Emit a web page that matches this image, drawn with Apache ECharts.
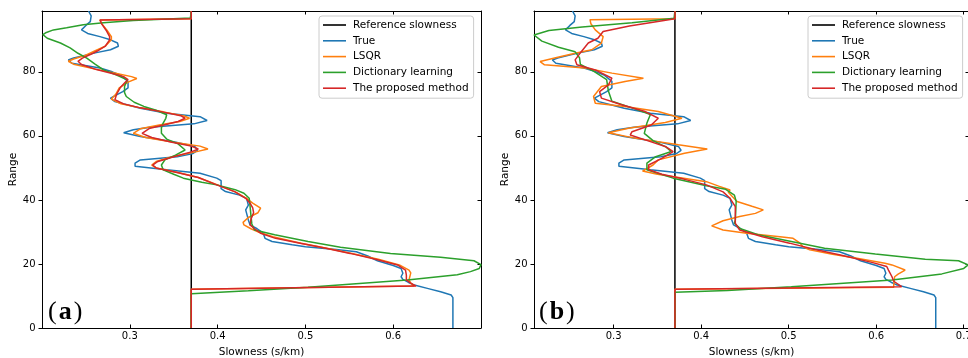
<!DOCTYPE html>
<html>
<head>
<meta charset="utf-8">
<script src="https://cdn.jsdelivr.net/npm/echarts@6/dist/echarts.min.js"></script>
<style>
  html, body { margin: 0; padding: 0; background: #ffffff; }
  #chart { width: 968px; height: 358px; }
</style>
</head>
<body>
<div id="chart"></div>
<script>
// Reference slowness (s/km), constant over the whole range
const REF_SLOWNESS = 0.37;
const RANGE_MIN = 0;
const RANGE_MAX = 99;

// Tick labels
const rangeTicks = [0, 20, 40, 60, 80];
const slowTicksA = [0.3, 0.4, 0.5, 0.6];
const slowTicksB = [0.3, 0.4, 0.5, 0.6, 0.7];

// True slowness profile (shared by both panels)
const rangeTrue = [99, 97.5, 95.7, 94.5, 93.1, 92, 91, 90, 89, 88, 86.9, 86, 85.3, 84.3, 83.7, 82.7, 81.2, 80, 79, 77, 75, 73.8, 72.8, 71.8, 70.7, 69.5, 68.6, 67.1, 66, 64.8, 63.75, 63.2, 62.7, 61.9, 61, 59.8, 58.2, 56.7, 55.5, 54.5, 53.5, 52.5, 51.5, 50.5, 49.4, 48.3, 46.8, 46, 43.5, 42.6, 41.5, 40.5, 38.4, 36.9, 33.75, 32.2, 31, 29.6, 28, 27, 26, 25.4, 24.5, 23.8, 22.5, 21, 19.5, 18.6, 17.1, 16, 15.2, 14.3, 13.4, 12.3, 11.3, 10.3, 9.5, 0];
const slowTrue = [0.253, 0.256, 0.255, 0.250, 0.245, 0.252, 0.266, 0.278, 0.286, 0.287, 0.278, 0.262, 0.251, 0.236, 0.230, 0.234, 0.266, 0.280, 0.289, 0.298, 0.298, 0.292, 0.285, 0.278, 0.283, 0.300, 0.312, 0.342, 0.380, 0.388, 0.373, 0.345, 0.323, 0.304, 0.293, 0.312, 0.350, 0.374, 0.377, 0.372, 0.354, 0.312, 0.306, 0.306, 0.342, 0.380, 0.399, 0.404, 0.404, 0.409, 0.425, 0.433, 0.435, 0.432, 0.435, 0.437, 0.445, 0.452, 0.454, 0.462, 0.485, 0.500, 0.535, 0.558, 0.571, 0.582, 0.600, 0.609, 0.611, 0.609, 0.611, 0.617, 0.624, 0.640, 0.654, 0.666, 0.668, 0.668];

// Panel (a): LSQR
const rangeLsqrA = [99, 96.6, 96.2, 95, 93, 91, 90, 88, 86.5, 85, 84, 83.3, 82.4, 81, 79.5, 78.5, 77.9, 76.8, 75, 73, 71.5, 70, 68.75, 67.5, 66.2, 65.5, 64.5, 63.5, 62.2, 60.8, 59.5, 58, 56.8, 55.9, 55, 53.5, 52, 50.9, 50, 48.5, 47, 44.7, 42.5, 40.5, 39, 37.4, 36, 34.5, 33, 32.2, 31, 30, 28.5, 26.5, 25, 23.3, 21.5, 19.7, 18.1, 17.2, 15, 14, 13.1, 12.1, 0];
const slowLsqrA = [0.37, 0.37, 0.266, 0.268, 0.274, 0.279, 0.279, 0.272, 0.260, 0.248, 0.236, 0.230, 0.236, 0.258, 0.285, 0.302, 0.308, 0.298, 0.288, 0.284, 0.279, 0.290, 0.312, 0.338, 0.362, 0.368, 0.357, 0.335, 0.312, 0.304, 0.318, 0.350, 0.380, 0.389, 0.375, 0.348, 0.330, 0.325, 0.330, 0.356, 0.378, 0.400, 0.420, 0.433, 0.440, 0.449, 0.446, 0.435, 0.429, 0.430, 0.438, 0.446, 0.463, 0.495, 0.523, 0.553, 0.583, 0.607, 0.618, 0.620, 0.618, 0.620, 0.624, 0.37, 0.37];

// Panel (a): dictionary learning
const rangeDictA = [99, 96.8, 96, 95.3, 94.7, 93.8, 93.1, 92.3, 91.6, 90.5, 89, 87.5, 85.8, 84.3, 82.5, 80.6, 79, 77.5, 75.4, 73.5, 72.3, 70.5, 69.2, 68, 66.6, 65.5, 64, 62.5, 60.8, 59, 57.5, 55.6, 54, 52.5, 50.9, 49.4, 48, 46.8, 45.5, 44.7, 43.2, 42.1, 40.5, 38, 35, 32.5, 30.6, 29.1, 27, 25.2, 23.3, 22.1, 21, 19.8, 18.6, 17.6, 16.6, 15, 12.7, 11.6, 10.7, 0];
const slowDictA = [0.37, 0.369, 0.304, 0.270, 0.247, 0.228, 0.213, 0.205, 0.201, 0.206, 0.221, 0.232, 0.241, 0.251, 0.260, 0.270, 0.285, 0.297, 0.294, 0.294, 0.296, 0.305, 0.316, 0.330, 0.342, 0.341, 0.338, 0.336, 0.336, 0.342, 0.355, 0.363, 0.352, 0.340, 0.336, 0.338, 0.350, 0.361, 0.382, 0.399, 0.420, 0.430, 0.436, 0.437, 0.438, 0.439, 0.442, 0.465, 0.503, 0.540, 0.597, 0.654, 0.692, 0.700, 0.698, 0.688, 0.673, 0.616, 0.503, 0.435, 0.37, 0.37];

// Panel (a): proposed method
const rangePropA = [99, 96.6, 96.2, 95, 93, 91, 90, 88, 86.5, 85.4, 84.3, 83.3, 82.3, 80.7, 79.5, 78.5, 77.6, 76.5, 75, 73, 71.3, 70, 68.75, 67.5, 66.3, 65.5, 64.5, 63.5, 62.3, 60.8, 59.5, 58, 56.8, 55.9, 55, 53.5, 52, 50.9, 50, 48.5, 47, 44.7, 42.5, 40.5, 39, 37.5, 36, 34, 32.2, 31, 29.6, 28, 26.5, 25, 23.3, 21.5, 19.7, 18.1, 16.5, 15, 14, 13.1, 12.1, 0];
const slowPropA = [0.37, 0.37, 0.266, 0.268, 0.273, 0.277, 0.277, 0.272, 0.263, 0.255, 0.246, 0.241, 0.245, 0.262, 0.280, 0.293, 0.298, 0.294, 0.289, 0.285, 0.283, 0.293, 0.312, 0.337, 0.358, 0.363, 0.355, 0.340, 0.322, 0.314, 0.325, 0.348, 0.370, 0.378, 0.370, 0.350, 0.332, 0.326, 0.330, 0.355, 0.378, 0.399, 0.420, 0.432, 0.437, 0.440, 0.441, 0.438, 0.437, 0.442, 0.449, 0.466, 0.494, 0.522, 0.551, 0.580, 0.605, 0.614, 0.615, 0.615, 0.620, 0.626, 0.37, 0.37];

// Panel (b): LSQR
const rangeLsqrB = [99, 96.6, 96.3, 95, 93.1, 91, 89, 86.9, 85.8, 84.5, 83.2, 82.2, 81.2, 79.6, 78, 77, 75.4, 72.3, 70.2, 69.2, 67.6, 65.5, 64.2, 62.4, 61, 59.3, 57.2, 55.9, 54.6, 52.5, 50.9, 49, 48, 46.8, 45.7, 44.3, 43.1, 42.4, 41.2, 39.5, 38, 36.9, 35.8, 34.8, 33.5, 31.9, 30.6, 29.6, 28.5, 28, 26.5, 25.4, 24.4, 23, 21.8, 20.2, 19.7, 18.1, 16.8, 16, 13.4, 12.7, 12.1, 0];
const slowLsqrB = [0.37, 0.37, 0.273, 0.274, 0.279, 0.288, 0.286, 0.275, 0.256, 0.235, 0.216, 0.221, 0.267, 0.298, 0.334, 0.313, 0.286, 0.277, 0.279, 0.313, 0.351, 0.378, 0.359, 0.317, 0.294, 0.324, 0.374, 0.407, 0.381, 0.351, 0.345, 0.333, 0.350, 0.380, 0.406, 0.420, 0.433, 0.431, 0.435, 0.441, 0.458, 0.471, 0.462, 0.444, 0.425, 0.412, 0.425, 0.452, 0.490, 0.505, 0.513, 0.516, 0.524, 0.550, 0.578, 0.610, 0.618, 0.633, 0.625, 0.621, 0.620, 0.620, 0.37, 0.37];

// Panel (b): dictionary learning
const rangeDictB = [99, 96.7, 95.3, 94, 92.9, 91.5, 89.6, 87.7, 86.25, 84.4, 82.3, 80.2, 77.6, 74, 70.8, 68.75, 66.7, 64, 60.8, 58.5, 56.5, 55.1, 53.5, 51.5, 49.4, 46.8, 44.4, 43.3, 41.5, 39.5, 33.75, 32.7, 31, 29.1, 27, 24.9, 23.1, 21.5, 21, 19.7, 18.6, 16.9, 15, 12.9, 11.7, 11.2, 0];
const slowDictB = [0.37, 0.369, 0.321, 0.264, 0.226, 0.209, 0.218, 0.237, 0.256, 0.261, 0.262, 0.277, 0.292, 0.294, 0.298, 0.321, 0.342, 0.338, 0.335, 0.345, 0.360, 0.366, 0.348, 0.338, 0.338, 0.368, 0.406, 0.428, 0.438, 0.440, 0.439, 0.438, 0.445, 0.465, 0.503, 0.541, 0.599, 0.656, 0.694, 0.705, 0.700, 0.675, 0.618, 0.503, 0.430, 0.37, 0.37];

// Panel (b): proposed method
const rangePropB = [99, 96.6, 95.5, 94.3, 92.6, 90.5, 89, 86.3, 83.75, 82.2, 80.6, 78, 75.9, 73.8, 71.8, 69.7, 67.6, 65.5, 63.4, 61.3, 60.3, 58.75, 56.7, 55.1, 53, 50.9, 49.4, 48, 46.5, 44.7, 42.5, 40.5, 37.9, 32.7, 30.6, 28.5, 26.5, 24.5, 22.8, 20.5, 19.2, 18.1, 16, 14.6, 12.9, 12.1, 0];
const slowPropB = [0.37, 0.37, 0.345, 0.318, 0.288, 0.282, 0.271, 0.263, 0.256, 0.258, 0.279, 0.298, 0.294, 0.284, 0.286, 0.309, 0.336, 0.351, 0.343, 0.321, 0.319, 0.336, 0.359, 0.368, 0.355, 0.340, 0.340, 0.355, 0.380, 0.406, 0.425, 0.433, 0.439, 0.439, 0.444, 0.470, 0.501, 0.530, 0.559, 0.595, 0.612, 0.614, 0.618, 0.620, 0.629, 0.37, 0.37];

const NAMES = ['Reference slowness', 'True', 'LSQR', 'Dictionary learning', 'The proposed method'];
const COLORS = ['#000000', '#1f77b4', '#ff7f0e', '#2ca02c', '#d62728'];
const FONT = 'DejaVu Sans';

function pairs(ranges, slows) {
  return slows.map((s, i) => [s, ranges[i]]);
}

const panels = [
  { xMin: 0.2, xMax: 0.7, ticks: slowTicksA,
    curves: [[[RANGE_MIN, RANGE_MAX], [REF_SLOWNESS, REF_SLOWNESS]],
             [rangeTrue, slowTrue], [rangeLsqrA, slowLsqrA], [rangeDictA, slowDictA], [rangePropA, slowPropA]] },
  { xMin: 0.209, xMax: 0.706, ticks: slowTicksB,
    curves: [[[RANGE_MIN, RANGE_MAX], [REF_SLOWNESS, REF_SLOWNESS]],
             [rangeTrue, slowTrue], [rangeLsqrB, slowLsqrB], [rangeDictB, slowDictB], [rangePropB, slowPropB]] }
];

const grids = [
  { left: 42, top: 11, width: 439, height: 317, outerBoundsMode: 'none', containLabel: false },
  { left: 534, top: 11, width: 435, height: 317, outerBoundsMode: 'none', containLabel: false }
];

const spine = { show: true, onZero: false, lineStyle: { color: '#000', width: 1 } };
const xAxes = [], yAxes = [], series = [];

panels.forEach((p, g) => {
  // bottom axis with labels
  xAxes.push({
    type: 'value', gridIndex: g, position: 'bottom', min: p.xMin, max: p.xMax,
    axisLine: spine, splitLine: { show: false },
    axisTick: { show: true, inside: true, length: 3.5, customValues: p.ticks, lineStyle: { color: '#000' } },
    axisLabel: { customValues: p.ticks, formatter: v => v.toFixed(1), fontFamily: FONT, fontSize: 10, color: '#000', margin: 3 },
    name: 'Slowness (s/km)', nameLocation: 'middle', nameGap: 18.5,
    nameTextStyle: { fontFamily: FONT, fontSize: 10.5, color: '#000' }
  });
  // top spine with inward ticks
  xAxes.push({
    type: 'value', gridIndex: g, position: 'top', min: p.xMin, max: p.xMax,
    axisLine: spine, splitLine: { show: false },
    axisTick: { show: true, inside: true, length: 3.5, customValues: p.ticks, lineStyle: { color: '#000' } },
    axisLabel: { show: false }
  });
  // left axis with labels
  yAxes.push({
    type: 'value', gridIndex: g, position: 'left', min: RANGE_MIN, max: RANGE_MAX,
    axisLine: spine, splitLine: { show: false },
    axisTick: { show: true, inside: false, length: 3.5, customValues: rangeTicks, lineStyle: { color: '#000' } },
    axisLabel: { customValues: rangeTicks, fontFamily: FONT, fontSize: 10, color: '#000', margin: 6.5 },
    name: 'Range', nameLocation: 'middle', nameGap: 21, nameRotate: 90,
    nameTextStyle: { fontFamily: FONT, fontSize: 10.5, color: '#000' }
  });
  // right spine with inward ticks
  yAxes.push({
    type: 'value', gridIndex: g, position: 'right', min: RANGE_MIN, max: RANGE_MAX,
    axisLine: spine, splitLine: { show: false },
    axisTick: { show: true, inside: true, length: 3.5, customValues: rangeTicks, lineStyle: { color: '#000' } },
    axisLabel: { show: false }
  });
  p.curves.forEach((c, k) => {
    series.push({
      type: 'line', name: NAMES[k], xAxisIndex: g * 2, yAxisIndex: g * 2,
      data: pairs(c[0], c[1]), symbol: 'none', showSymbol: false, smooth: false,
      color: COLORS[k], lineStyle: { color: COLORS[k], width: 1.5 },
      animation: false, silent: true, z: 2 + k
    });
  });
});

// Legend entries are drawn as short line samples
const legendBase = {
  orient: 'vertical', top: 16, icon: 'rect', itemWidth: 23, itemHeight: 1.6, itemGap: 3.8,
  padding: [3, 5, 4, 4], borderColor: '#cccccc', borderWidth: 1, borderRadius: 3,
  backgroundColor: 'rgba(255,255,255,0.8)', data: NAMES, selectedMode: false,
  textStyle: { fontFamily: FONT, fontSize: 10.5, color: '#000', lineHeight: 12, padding: [0, 0, 0, 2] }
};

const chart = echarts.init(document.getElementById('chart'), null, { renderer: 'canvas' });
chart.setOption({
  animation: false,
  backgroundColor: '#ffffff',
  grid: grids,
  xAxis: xAxes,
  yAxis: yAxes,
  series: series,
  legend: [
    Object.assign({}, legendBase, { left: 319 }),
    Object.assign({}, legendBase, { left: 808 })
  ],
  graphic: [
    { type: 'text', left: 48, top: 299, z: 100,
      style: { text: '{p|(}{b|a}{p|)}', rich: {
        p: { fontFamily: 'Liberation Serif', fontSize: 26, fill: '#000', padding: [0, 2, 0, 2] },
        b: { fontFamily: 'Liberation Serif', fontSize: 26, fontWeight: 'bold', fill: '#000' } } } },
    { type: 'text', left: 539, top: 299, z: 100,
      style: { text: '{p|(}{b|b}{p|)}', rich: {
        p: { fontFamily: 'Liberation Serif', fontSize: 26, fill: '#000', padding: [0, 2, 0, 2] },
        b: { fontFamily: 'Liberation Serif', fontSize: 26, fontWeight: 'bold', fill: '#000' } } } }
  ]
});
</script>
</body>
</html>
